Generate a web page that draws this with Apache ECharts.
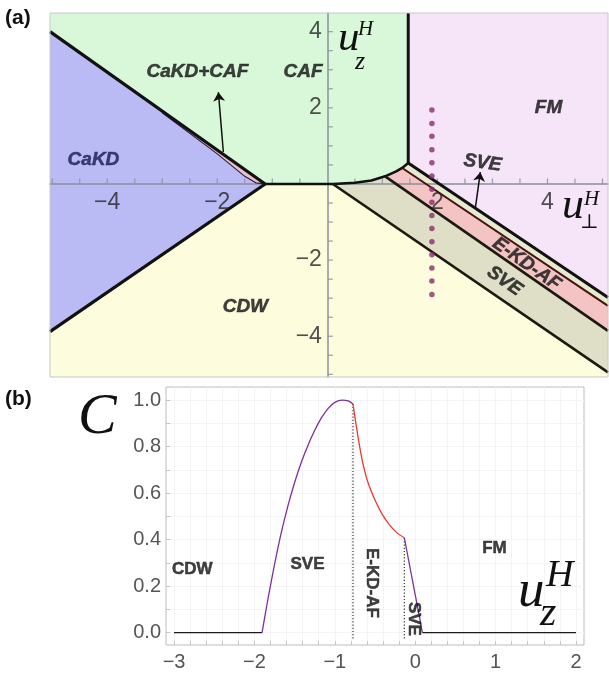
<!DOCTYPE html>
<html>
<head>
<meta charset="utf-8">
<script src="https://cdn.jsdelivr.net/npm/echarts@6/dist/echarts.min.js"></script>
<style>
  html, body { margin: 0; background: #fff; }
  #chart { width: 609px; height: 673px; }
</style>
</head>
<body>
<div id="chart"></div>
<script>
// ---------- panel (a): phase diagram, x = u_perp^H, y = u_z^H ----------
const xRangeA = [-5.04, 5.1];
const yRangeA = [-5.07, 4.49];
const xTicksA = [-5, -4.5, -4, -3.5, -3, -2.5, -2, -1.5, -1, -0.5, 0.5, 1, 1.5, 2, 2.5, 3, 3.5, 4, 4.5, 5];
const yTicksA = [-5, -4.5, -4, -3.5, -3, -2.5, -2, -1.5, -1, -0.5, 0.5, 1, 1.5, 2, 2.5, 3, 3.5, 4];
const xLabelsA = [-4, -2, 2, 4];
const yLabelsA = [-4, -2, 2, 4];

// region outlines
const frameRegion = [[-5.04, 4.49], [5.1, 4.49], [5.1, -5.07], [-5.04, -5.07]];
const cakdRegion = [[-5.04, 4.0], [-1.13, 0], [-5.04, -3.88]];
const cafRegion = [[-5.04, 4.49], [1.47, 4.49], [1.47, 0.55], [1.36, 0.42], [1.25, 0.33], [1.05, 0.2],
  [0.8, 0.09], [0.5, 0.03], [0.1, 0], [-1.13, 0], [-5.04, 4.0]];
const fmRegion = [[1.47, 4.49], [5.1, 4.49], [5.1, -2.98], [1.47, 0.55]];
const sveLowerRegion = [[1.05, 0.2], [5.1, -3.86], [5.1, -4.95], [0.1, 0], [0.5, 0.03], [0.8, 0.09]];
const ekdafRegion = [[1.36, 0.42], [5.1, -3.2], [5.1, -3.86], [1.05, 0.2], [1.25, 0.33]];
const sveUpperRegion = [[1.47, 0.55], [5.1, -2.98], [5.1, -3.2], [1.36, 0.42]];
const cakdCafRegion = [[-3.0, 1.92], [-1.13, 0], [-1.3, 0.03], [-1.5, 0.2], [-2.0, 0.79], [-3.0, 1.87]];

// phase boundaries
const cakdUpperEdge = [[-5.04, 4.0], [-1.13, 0]];
const cakdLowerEdge = [[-5.04, -3.88], [-1.13, 0]];
const cafLowerEdge = [[-1.13, 0], [0.1, 0], [0.5, 0.03], [0.8, 0.09], [1.05, 0.2], [1.25, 0.33], [1.36, 0.42], [1.47, 0.55]];
const cafFmEdge = [[1.47, 4.49], [1.47, 0.55]];
const fmEdge = [[1.47, 0.55], [5.1, -2.98]];
const ekdafTopEdge = [[1.36, 0.42], [5.1, -3.2]];
const ekdafBottomEdge = [[1.05, 0.2], [5.1, -3.86]];
const cdwEdge = [[0.1, 0], [5.1, -4.95]];
const cakdCafEdge = [[-3.0, 1.87], [-2.0, 0.79], [-1.5, 0.2], [-1.3, 0.03], [-1.13, 0]];

// dotted cut used in panel (b)
const cutX = 1.9;
const cutY = [1.94, 1.59, 1.25, 0.9, 0.56, 0.21, -0.14, -0.48, -0.83, -1.17, -1.52, -1.86, -2.21, -2.55, -2.9];

const arrowsA = [
  [[-1.89, 0.84], [-1.98, 2.41]],
  [[2.69, -0.63], [2.78, 0.31]],
];

const phaseNamesA = ['CaKD', 'CaKD+CAF', 'CAF', 'CDW', 'FM', 'SVE', 'E-KD-AF', 'SVE'];
const phaseXA = [-4.25, -2.36, -0.44, -1.49, 4.02, 2.82, 3.62, 3.22];
const phaseYA = [0.63, 2.94, 2.94, -3.23, 1.99, 0.55, -2.1, -2.55];
const phaseRotA = [0, 0, 0, 0, 0, -8, -35, -35];

// ---------- panel (b): concurrence C along the cut ----------
const xTicksB = [-3, -2.8, -2.6, -2.4, -2.2, -2, -1.8, -1.6, -1.4, -1.2, -1, -0.8, -0.6, -0.4, -0.2, 0,
  0.2, 0.4, 0.6, 0.8, 1, 1.2, 1.4, 1.6, 1.8, 2];
const yTicksB = [0, 0.1, 0.2, 0.3, 0.4, 0.5, 0.6, 0.7, 0.8, 0.9, 1.0];
const xLabelsB = [-3, -2, -1, 0, 1, 2];
const yLabelsB = [0, 0.2, 0.4, 0.6, 0.8, 1.0];

const cdwC = [[-3, 0], [-1.905, 0]];
const sveRiseC = [[-1.905, 0], [-1.83, 0.148], [-1.747, 0.298], [-1.663, 0.434], [-1.58, 0.549],
  [-1.497, 0.649], [-1.414, 0.735], [-1.332, 0.807], [-1.248, 0.871], [-1.165, 0.924],
  [-1.082, 0.964], [-1.0, 0.99], [-0.908, 1.0], [-0.833, 0.996], [-0.774, 0.983]];
const ekdafC = [[-0.774, 0.983], [-0.728, 0.878], [-0.687, 0.792], [-0.646, 0.72], [-0.584, 0.642],
  [-0.5, 0.57], [-0.417, 0.513], [-0.334, 0.47], [-0.229, 0.43], [-0.135, 0.408]];
const sveFallC = [[-0.135, 0.408], [0.09, 0]];
const fmC = [[0.09, 0], [2, 0]];
const transitionX = [-0.774, -0.135];
const transitionTop = [0.983, 0.408];
const transitionBottom = -0.025;

const phaseNamesB = ['CDW', 'SVE', 'E-KD-AF', 'SVE', 'FM'];
const phaseXB = [-2.774, -1.34, -0.544, -0.014, 0.986];
const phaseYB = [0.274, 0.295, 0.214, 0.059, 0.363];
const phaseRotB = [0, 0, -90, -90, 0];

// ---------- helpers ----------
const minus = (v) => (v < 0 ? '\u2212' + Math.abs(v) : String(v));
const axisGrey = '#8c8f9c';
const clear = 'rgba(0,0,0,0)';

function regionSeries(points, fill) {
  return {
    type: 'custom', xAxisIndex: 0, yAxisIndex: 0, z: 1, silent: true,
    data: [[0, 0]],
    renderItem: (params, api) => ({
      type: 'polygon',
      shape: { points: points.map((p) => api.coord(p)) },
      style: { fill: fill },
    }),
  };
}

function edgeSeries(points, color, width, idx, extra) {
  return Object.assign({
    type: 'line', xAxisIndex: idx, yAxisIndex: idx, data: points,
    symbol: 'none', silent: true, z: 4,
    lineStyle: { color: color, width: width },
  }, extra || {});
}

function labelSeries(names, xs, ys, rots, idx, font) {
  return {
    type: 'scatter', xAxisIndex: idx, yAxisIndex: idx, z: 7, silent: true,
    symbolSize: 1, itemStyle: { color: clear },
    data: names.map((n, i) => {
      const ink = idx === 0 && n === 'CaKD' ? '#1a1a55' : '#111';
      return {
        name: n, value: [xs[i], ys[i]],
        label: { rotate: rots[i], color: ink, textBorderColor: ink, textBorderWidth: 0.5 },
      };
    }),
    label: Object.assign({ show: true, position: 'inside', formatter: '{b}', fontWeight: 'bold',
      fontFamily: 'Liberation Sans' }, font),
  };
}

// ticks and tick labels of the crossing axes in panel (a), placed through the axes' scales
function crossTickSeries(points, size, offset) {
  return {
    type: 'scatter', xAxisIndex: 0, yAxisIndex: 0, z: 3, silent: true,
    symbol: 'rect', symbolSize: size, symbolOffset: offset,
    itemStyle: { color: axisGrey }, data: points,
  };
}

function crossLabelSeries(points, text, position, distance) {
  return {
    type: 'scatter', xAxisIndex: 0, yAxisIndex: 0, z: 7, silent: true,
    symbolSize: 1, itemStyle: { color: clear },
    data: points.map((p, i) => ({ value: p, name: minus(text[i]) })),
    label: { show: true, position: position, distance: distance, formatter: '{b}', fontSize: 23,
      color: '#262626', fontFamily: 'Liberation Sans' },
  };
}

function mathText(text, x, y, size, italic, family, bold) {
  return {
    type: 'text', z: 20, silent: true,
    style: {
      text: text, x: x, y: y,
      font: (italic ? 'italic ' : '') + (bold ? 'bold ' : '') + size + 'px ' + (family || '"Liberation Serif"'),
      fill: '#111', textAlign: 'left', textVerticalAlign: 'middle', align: 'left', verticalAlign: 'middle',
    },
  };
}

const chart = echarts.init(document.getElementById('chart'));
chart.setOption({
  animation: false,
  grid: [
    { left: 50, top: 13, width: 558, height: 364, show: true, borderColor: '#c8c8c8', borderWidth: 1,
      backgroundColor: clear, z: 10 },
    { left: 166, top: 387, width: 418, height: 258, show: true, borderColor: '#bdbdbd', borderWidth: 1,
      backgroundColor: clear },
  ],
  xAxis: [
    {
      gridIndex: 0, type: 'value', min: xRangeA[0], max: xRangeA[1], z: 3,
      axisLine: { onZero: true, lineStyle: { color: axisGrey, width: 1.5 } },
      axisTick: { show: false }, axisLabel: { show: false }, splitLine: { show: false },
    },
    {
      gridIndex: 1, type: 'value', min: -3.1, max: 2.1,
      axisLine: { show: false, onZero: false },
      axisTick: { inside: true, length: 4, customValues: xTicksB, lineStyle: { color: '#c4c4c4' } },
      axisLabel: { customValues: xLabelsB, formatter: minus, fontSize: 20, color: '#555', margin: 7,
        fontFamily: 'Liberation Sans' },
      splitLine: { show: true, lineStyle: { color: '#f4f4f4', width: 1 } },
    },
  ],
  yAxis: [
    {
      gridIndex: 0, type: 'value', min: yRangeA[0], max: yRangeA[1], z: 3,
      axisLine: { onZero: true, lineStyle: { color: axisGrey, width: 1.5 } },
      axisTick: { show: false }, axisLabel: { show: false }, splitLine: { show: false },
    },
    {
      gridIndex: 1, type: 'value', min: -0.053, max: 1.056,
      axisLine: { show: false, onZero: false },
      axisTick: { inside: true, length: 4, customValues: yTicksB, lineStyle: { color: '#c4c4c4' } },
      axisLabel: { customValues: yLabelsB, formatter: (v) => v.toFixed(1), fontSize: 20, color: '#555',
        margin: 5, fontFamily: 'Liberation Sans' },
      splitLine: { show: true, lineStyle: { color: '#f4f4f4', width: 1 } },
    },
  ],
  series: [
    regionSeries(frameRegion, '#fdfcdc'),
    regionSeries(cakdRegion, '#babbf5'),
    regionSeries(cafRegion, '#d9f8d9'),
    regionSeries(fmRegion, '#f6e4f9'),
    regionSeries(sveLowerRegion, '#dfdfc7'),
    regionSeries(ekdafRegion, '#f4c4c4'),
    regionSeries(sveUpperRegion, '#e6ebd0'),
    regionSeries(cakdCafRegion, '#efc2c2'),

    crossTickSeries(xTicksA.map((v) => [v, 0]), [1.3, 5], [0, -3]),
    crossTickSeries(yTicksA.map((v) => [0, v]), [5, 1.3], [3, 0]),
    crossLabelSeries(xLabelsA.map((v) => [v, 0]), xLabelsA, 'bottom', 7),
    crossLabelSeries(yLabelsA.map((v) => [0, v]), yLabelsA, 'left', 5),

    edgeSeries(cakdCafEdge, '#2a1f4a', 1.2, 0),
    edgeSeries(cakdUpperEdge, '#111', 3.2, 0),
    edgeSeries(cakdLowerEdge, '#111', 3.2, 0),
    edgeSeries(cafLowerEdge, '#111', 2.6, 0),
    edgeSeries(cafFmEdge, '#111', 3, 0),
    edgeSeries(fmEdge, '#111', 3, 0),
    edgeSeries(ekdafTopEdge, '#4a1010', 2, 0),
    edgeSeries(ekdafBottomEdge, '#1a1a10', 2.6, 0),
    edgeSeries(cdwEdge, '#1a1a10', 2.6, 0),

    {
      type: 'lines', coordinateSystem: 'cartesian2d', xAxisIndex: 0, yAxisIndex: 0, z: 6, silent: true,
      symbol: ['none', 'arrow'], symbolSize: 9,
      lineStyle: { color: '#111', width: 1.5, opacity: 1 },
      data: arrowsA.map((c) => ({ coords: c })),
    },
    {
      type: 'scatter', xAxisIndex: 0, yAxisIndex: 0, z: 8, silent: true,
      symbolSize: 5.5, itemStyle: { color: '#8b2c6e' },
      data: cutY.map((y) => [cutX, y]),
    },
    labelSeries(phaseNamesA, phaseXA, phaseYA, phaseRotA, 0, { fontSize: 19, fontStyle: 'italic' }),

    edgeSeries([[transitionX[0], transitionBottom], [transitionX[0], transitionTop[0]]], '#333', 1, 1,
      { lineStyle: { color: '#333', width: 1.2, type: [1.2, 2] }, z: 3 }),
    edgeSeries([[transitionX[1], transitionBottom], [transitionX[1], transitionTop[1]]], '#333', 1, 1,
      { lineStyle: { color: '#333', width: 1.2, type: [1.2, 2] }, z: 3 }),
    edgeSeries(cdwC, '#1a1a1a', 1.3, 1),
    edgeSeries(sveRiseC, '#7d2f9e', 1.3, 1, { smooth: 0.3 }),
    edgeSeries(ekdafC, '#f0362e', 1.3, 1, { smooth: 0.3 }),
    edgeSeries(sveFallC, '#7d2f9e', 1.3, 1),
    edgeSeries(fmC, '#1a1a1a', 1.3, 1),
    labelSeries(phaseNamesB, phaseXB, phaseYB, phaseRotB, 1, { fontSize: 17 }),
  ],
  graphic: [
    mathText('(a)', 5, 18, 21, false, '"Liberation Sans"', true),
    mathText('(b)', 5, 399, 21, false, '"Liberation Sans"', true),
    // u_z^H on panel (a)
    mathText('u', 338, 38.5, 43, true),
    mathText('H', 358, 29, 21, true),
    mathText('z', 355, 62.5, 26, true),
    // u_perp^H on panel (a)
    mathText('u', 562, 206, 44, true),
    mathText('H', 584, 199.5, 21, true),
    mathText('\u22a5', 580, 223, 20, false, '"DejaVu Serif"'),
    // C and u_z^H on panel (b)
    mathText('C', 78, 417.5, 58, true),
    mathText('u', 518, 592, 53, true),
    mathText('H', 546, 576, 38, true),
    mathText('z', 540, 614, 42, true),
  ],
});
</script>
</body>
</html>
